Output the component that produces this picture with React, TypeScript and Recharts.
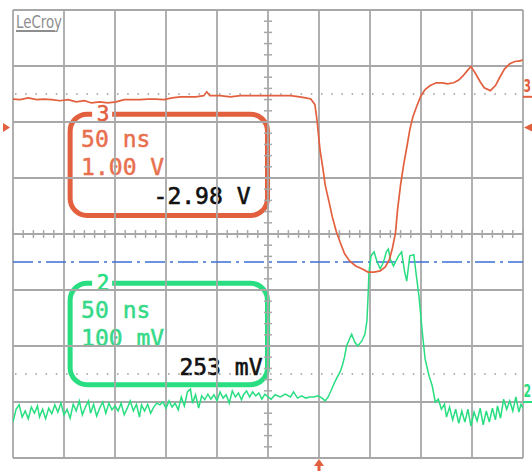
import React from "react";
import {
  LineChart,
  Line,
  XAxis,
  YAxis,
  ReferenceLine,
  ReferenceArea,
  ReferenceDot,
} from "recharts";

// 50 ns/div, 10 divisions
const timeTicks = [0, 50, 100, 150, 200, 250, 300, 350, 400, 450, 500];
// C2 at 100 mV/div, ground 3 div below centre
const ch2Ticks = [-100, 0, 100, 200, 300, 400, 500, 600, 700];

// C3 (orange), volts
const ch3Time = [
  0, 7, 15, 23, 30, 38, 46, 54, 62, 70,
  77, 85, 93, 101, 109, 117, 125, 132, 140, 148,
  156, 164, 172, 179, 187, 190, 193, 203, 213, 223,
  232, 242, 252, 262, 272, 281, 287, 292, 296, 298,
  301, 304, 306, 310, 313, 317, 321, 325, 330, 336,
  342, 348, 354, 360, 365, 369, 372, 375, 377, 380,
  383, 386, 389, 392, 396, 400, 404, 409, 415, 421,
  426, 432, 437, 442, 446, 449, 453, 458, 462, 468,
  473, 477, 482, 487, 492, 497, 500,
];
const ch3Volts = [
  -0.04, -0.05, -0.02, -0.05, -0.04, -0.05, -0.07, -0.05, -0.09, -0.07,
  -0.11, -0.09, -0.11, -0.09, -0.05, -0.05, -0.05, -0.04, -0.04, -0.05,
  -0.02, 0, 0, 0, 0.02, 0.09, 0.02, 0.02, 0, 0.02,
  0.02, 0.02, 0.02, 0.02, 0.02, 0, -0.02, -0.04, -0.14, -0.41,
  -0.95, -1.3, -1.57, -1.89, -2.14, -2.41, -2.61, -2.8, -2.93, -3.02,
  -3.07, -3.13, -3.13, -3.11, -3.04, -2.91, -2.7, -2.43, -2.02, -1.57,
  -1.21, -0.91, -0.59, -0.36, -0.16, 0.02, 0.13, 0.2, 0.25, 0.25,
  0.23, 0.25, 0.3, 0.39, 0.48, 0.54, 0.43, 0.27, 0.16, 0.11,
  0.2, 0.34, 0.5, 0.59, 0.63, 0.64, 0.66,
];

// C2 (green), millivolts
const ch2Time = [
  0, 3, 6, 9, 12, 15, 18, 21, 24, 26,
  29, 32, 35, 38, 41, 44, 47, 50, 53, 56,
  59, 62, 65, 68, 71, 74, 76, 79, 82, 85,
  88, 91, 94, 97, 100, 103, 106, 109, 112, 115,
  118, 121, 124, 126, 129, 132, 135, 138, 141, 144,
  147, 150, 153, 156, 159, 162, 165, 168, 171, 174,
  176, 179, 182, 185, 188, 191, 194, 197, 200, 203,
  206, 209, 212, 215, 218, 221, 224, 226, 229, 232,
  235, 238, 241, 244, 247, 250, 253, 257, 262, 267,
  272, 275, 279, 283, 287, 291, 295, 299, 303, 306,
  309, 312, 315, 318, 321, 323, 325, 327, 330, 332,
  335, 338, 342, 345, 347, 348, 349, 351, 354, 357,
  360, 362, 364, 366, 368, 370, 373, 375, 378, 381,
  384, 386, 389, 393, 395, 398, 401, 404, 408, 411,
  414, 417, 420, 423, 425, 428, 431, 434, 437, 440,
  443, 446, 449, 452, 455, 458, 461, 464, 467, 470,
  473, 475, 478, 481, 484, 487, 490, 493, 496, 498,
  500,
];
const ch2Millivolts = [
  -36, -13, -5, -27, -16, -30, -9, -20, -7, -27,
  -13, -30, -11, -21, -5, -18, -2, -23, -13, -29,
  -4, -16, 2, -23, -9, 2, -20, -4, -25, -11,
  0, -20, -2, -14, -7, -16, -2, -23, -11, 2,
  -16, -4, -27, -5, -16, -4, -20, -9, -2, -5,
  0, -11, 2, -9, -2, -14, 9, -7, 18, 23,
  -2, 13, -11, 11, 4, 14, 5, 13, 2, 18,
  7, 13, -2, 20, 9, 16, 4, 13, 20, 9,
  18, 11, 16, 5, 14, 9, 5, 13, 9, 14,
  9, 18, 7, 11, 7, 9, 9, 11, 7, 2,
  9, 21, 34, 45, 55, 66, 80, 100, 113, 121,
  107, 100, 109, 121, 145, 184, 232, 261, 268, 250,
  238, 245, 255, 268, 273, 255, 243, 250, 261, 268,
  232, 216, 261, 263, 232, 189, 130, 77, 46, 29,
  0, 5, -13, -4, -27, -9, -32, -13, -38, -16,
  -36, -13, -43, -18, -34, -11, -41, -16, -36, -11,
  -32, -7, -29, 5, -13, 2, -16, 9, -18, -4,
  -11,
];

const ch3Data = ch3Time.map((t, i) => ({ t, v: ch3Volts[i] }));
const ch2Data = ch2Time.map((t, i) => ({ t, v: ch2Millivolts[i] }));

const ORANGE = "#e2603e";
const ORANGE_TEXT = "#e8704e";
const GREEN = "#28de80";
const GREEN_TEXT = "#35d987";
const GRID = "#a8a8a8";
const MONO = "DejaVu Sans Mono, monospace";

const hMinor = Array.from({ length: 51 }, (_, i) => i * 10);
const vMinor = Array.from({ length: 41 }, (_, i) => -100 + i * 20);

function infoBox(color: string, textColor: string, chan: string, scale: string, reading: string, inset: number, dy: number) {
  return (p: any) => {
    const { x, y, width, height } = p;
    return (
      <g fontFamily={MONO} fontSize={23}>
        <rect x={x} y={y} width={width} height={height} rx={17} ry={17} fill="none" stroke={color} strokeWidth={5} />
        <rect x={x + 22} y={y - 4} width={20} height={8} fill="#fff" />
        <text x={x + 33} y={y + 7} textAnchor="middle" fill={color} stroke={color} strokeWidth={0.6} fontSize={21}>{chan}</text>
        <text x={x + 11} y={y + 33 + dy} fill={textColor} stroke={textColor} strokeWidth={0.5}>50 ns</text>
        <text x={x + 11} y={y + 61 + dy} fill={textColor} stroke={textColor} strokeWidth={0.5}>{scale}</text>
        <text x={x + width - inset} y={y + 90 + dy} textAnchor="end" fill="#111" stroke="#111" strokeWidth={0.6}>{reading}</text>
      </g>
    );
  };
}

function levelTag(color: string, label: string) {
  return (p: any) => (
    <g>
      <line x1={p.cx} x2={p.cx + 9} y1={p.cy} y2={p.cy} stroke={color} strokeWidth={2} />
      <text x={0} y={0} transform={`translate(${p.cx + 0.5},${p.cy - 5}) scale(1,1.45)`} fill={color} fontSize={12} fontWeight="bold"
        fontFamily="DejaVu Sans Condensed, sans-serif">{label}</text>
    </g>
  );
}

export default function App() {
  return (
    <div style={{ position: "absolute", left: 0, top: 0, width: 532, height: 471, background: "#fff" }}>
      <LineChart width={532} height={471} margin={{ top: 10, left: 13, right: 9, bottom: 13 }}>
        <XAxis dataKey="t" type="number" domain={[0, 500]} ticks={timeTicks} tick={false} tickLine={false} axisLine={false} height={0} allowDataOverflow />
        <YAxis yAxisId="ch2" type="number" domain={[-100, 700]} ticks={ch2Ticks} tick={false} tickLine={false} axisLine={false} width={0} allowDataOverflow />
        <YAxis yAxisId="ch3" type="number" domain={[-6.45, 1.55]} tick={false} tickLine={false} axisLine={false} width={0} allowDataOverflow />

        {timeTicks.map((t) => (
          <ReferenceLine key={"gx" + t} yAxisId="ch2" x={t} stroke={GRID} strokeWidth={1.8} />
        ))}
        {ch2Ticks.map((m) => (
          <ReferenceLine key={"gy" + m} yAxisId="ch2" y={m} stroke={GRID} strokeWidth={1.8} />
        ))}
        {hMinor.map((t) => (
          <ReferenceLine key={"h" + t} yAxisId="ch2" stroke={GRID} strokeWidth={1.5} segment={[{ x: t, y: 293 }, { x: t, y: 307 }]} />
        ))}
        {vMinor.map((m) => (
          <ReferenceLine key={"v" + m} yAxisId="ch2" stroke={GRID} strokeWidth={1.5} segment={[{ x: 246, y: m }, { x: 254, y: m }]} />
        ))}
        <ReferenceLine yAxisId="ch2" y={550} stroke="#999" strokeWidth={1.5} strokeDasharray="1.5 8.7" strokeDashoffset={-2} />
        <ReferenceLine yAxisId="ch2" y={50} stroke="#999" strokeWidth={1.5} strokeDasharray="1.5 8.7" strokeDashoffset={-2} />
        <ReferenceLine yAxisId="ch2" y={250} stroke="#3b6fd6" strokeWidth={1.5} strokeDasharray="20 5 3 5" />

        <ReferenceArea yAxisId="ch3" x1={56} x2={249.5} y1={-0.31} y2={-2.12} ifOverflow="visible"
          shape={infoBox(ORANGE, ORANGE_TEXT, "3", "1.00 V", "-2.98 V", 17, 0)} />
        <ReferenceArea yAxisId="ch2" x1={56} x2={249.5} y1={212} y2={31} ifOverflow="visible"
          shape={infoBox(GREEN, GREEN_TEXT, "2", "100 mV", "253 mV", 5, 2)} />

        <Line data={ch2Data} yAxisId="ch2" dataKey="v" type="linear" stroke={GREEN} strokeWidth={1.5} dot={false} isAnimationActive={false} />
        <Line data={ch3Data} yAxisId="ch3" dataKey="v" type="linear" stroke={ORANGE} strokeWidth={1.7} dot={false} isAnimationActive={false} />

        <ReferenceDot yAxisId="ch3" x={0} y={-0.55} ifOverflow="visible"
          shape={(p: any) => <polygon points={`${p.cx - 10},${p.cy - 4.5} ${p.cx - 3},${p.cy} ${p.cx - 10},${p.cy + 4.5}`} fill={ORANGE} />} />
        <ReferenceDot yAxisId="ch3" x={500} y={-0.55} ifOverflow="visible"
          shape={(p: any) => <polygon points={`${p.cx + 10},${p.cy - 4.5} ${p.cx + 1},${p.cy} ${p.cx + 10},${p.cy + 4.5}`} fill={ORANGE} />} />
        <ReferenceDot yAxisId="ch2" x={300} y={-100} ifOverflow="visible"
          shape={(p: any) => (
            <g fill={ORANGE}>
              <polygon points={`${p.cx - 5},${p.cy + 8} ${p.cx},${p.cy + 1} ${p.cx + 5},${p.cy + 8}`} />
              <rect x={p.cx - 1.5} y={p.cy + 7} width={3} height={8} />
            </g>
          )} />
        <ReferenceDot yAxisId="ch3" x={500} y={0} ifOverflow="visible" shape={levelTag(ORANGE, "3")} />
        <ReferenceDot yAxisId="ch2" x={500} y={0} ifOverflow="visible" shape={levelTag(GREEN, "2")} />
      </LineChart>
      <svg width={532} height={471} style={{ position: "absolute", left: 0, top: 0, pointerEvents: "none" }}>
        <text x={16} y={28} fontSize={17} fill="#8e8e8e" fontFamily="Liberation Sans Narrow, DejaVu Sans Condensed, sans-serif" textLength={46} lengthAdjust="spacingAndGlyphs">LeCroy</text>
        <line x1={16} x2={55} y1={31} y2={31} stroke="#8e8e8e" strokeWidth={2} />
      </svg>
    </div>
  );
}
